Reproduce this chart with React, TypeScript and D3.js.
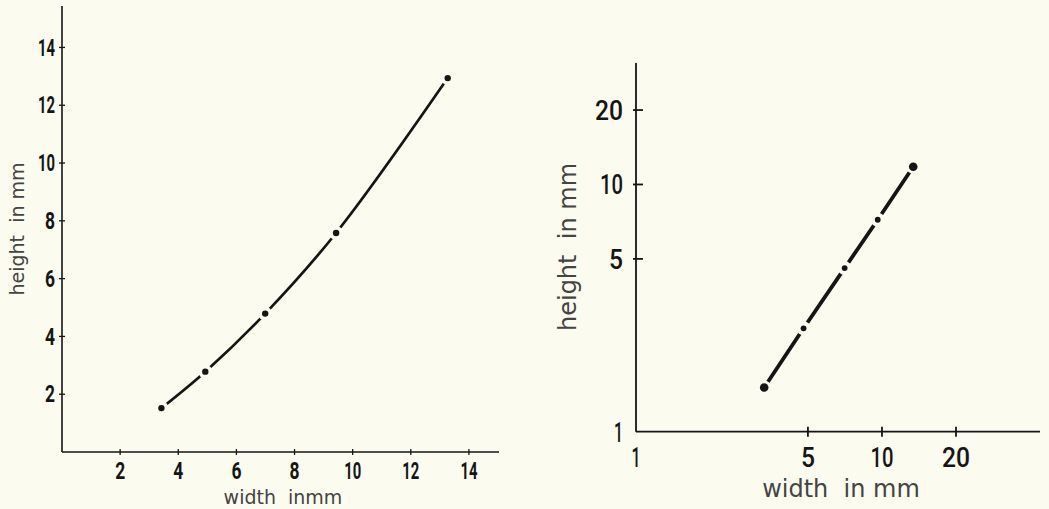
import React from "react";
import * as d3 from "d3";

// Left panel (linear axes)
const LEFT_WIDTH = [3.42, 4.93, 6.99, 9.43, 13.27];
const LEFT_HEIGHT = [1.52, 2.78, 4.79, 7.58, 12.94];
const LEFT_X_TICKS = [2, 4, 6, 8, 10, 12, 14];
const LEFT_Y_TICKS = [2, 4, 6, 8, 10, 12, 14];

// Right panel (log-log axes)
const RIGHT_WIDTH = [3.32, 4.8, 7.05, 9.61, 13.4];
const RIGHT_HEIGHT = [1.51, 2.62, 4.59, 7.2, 11.8];
const RIGHT_X_TICKS = [1, 5, 10, 20];
const RIGHT_Y_TICKS = [1, 5, 10, 20];

const BG = "#fcfbf0";
const INK = "#151515";
const NUM_FONT = "Roboto, 'DejaVu Sans', sans-serif";
const TITLE_FONT = "'DejaVu Sans', sans-serif";

export default function App() {
  const lx = d3.scaleLinear().domain([0, 15]).range([62, 498]);
  const ly = d3.scaleLinear().domain([0, 15.4]).range([452, 7]);
  const rx = d3.scaleLog().domain([1, 43.9]).range([636, 1040]);
  const ry = d3.scaleLog().domain([1, 31]).range([431.7, 63]);

  const leftPts: [number, number][] = LEFT_WIDTH.map((w, i) => [lx(w), ly(LEFT_HEIGHT[i])]);
  const rightPts: [number, number][] = RIGHT_WIDTH.map((w, i) => [rx(w), ry(RIGHT_HEIGHT[i])]);

  const leftPath = d3.line().curve(d3.curveCatmullRom.alpha(0.5))(leftPts) || "";
  const rightPath = d3.line()(rightPts) || "";

  const [lx0, lx1] = lx.range();
  const [ly0, ly1] = ly.range();
  const [rx0, rx1] = rx.range();
  const [ry0, ry1] = ry.range();

  const leftLen = (t: number) =>
    String(t).split("").reduce((s, c) => s + (c === "1" ? 7 : 10), 0);
  const rightLen = (t: number) =>
    String(t).split("").reduce((s, c) => s + (c === "1" ? 9 : 14), 0);

  return (
    <svg
      width={1049}
      height={509}
      style={{ position: "absolute", left: 0, top: 0, background: BG }}
    >
      <rect x={0} y={0} width={1049} height={509} fill={BG} />

      {/* ---------- LEFT PANEL ---------- */}
      <g>
        <line x1={lx0} y1={ly0} x2={lx0} y2={ly1 - 1} stroke={INK} strokeWidth={1.6} />
        <line x1={lx0} y1={ly0} x2={lx1 + 1} y2={ly0} stroke={INK} strokeWidth={1.6} />
        {LEFT_X_TICKS.map((t) => (
          <g key={"lxt" + t}>
            <line x1={lx(t)} x2={lx(t)} y1={ly0 - 3} y2={ly0 + 3} stroke={INK} strokeWidth={1.3} />
            <text
              x={lx(t)}
              y={479}
              textAnchor="middle"
              fontFamily={NUM_FONT}
              fontWeight={700}
              fontSize={23.5}
              fill={INK}
              textLength={leftLen(t)}
              lengthAdjust="spacingAndGlyphs"
            >
              {t}
            </text>
          </g>
        ))}
        {LEFT_Y_TICKS.map((t) => (
          <g key={"lyt" + t}>
            <line x1={lx0 - 3} x2={lx0 + 3} y1={ly(t)} y2={ly(t)} stroke={INK} strokeWidth={1.3} />
            <text
              x={55}
              y={ly(t) + 8.2}
              textAnchor="end"
              fontFamily={NUM_FONT}
              fontWeight={700}
              fontSize={23.5}
              fill={INK}
              textLength={leftLen(t)}
              lengthAdjust="spacingAndGlyphs"
            >
              {t}
            </text>
          </g>
        ))}
        <text
          transform={`translate(24,229) rotate(-90)`}
          textAnchor="middle"
          fontFamily={TITLE_FONT}
          fontSize={19}
          fill="#444"
          style={{ whiteSpace: "pre" }}
        >
          {"height  in mm"}
        </text>
        <text
          x={283}
          y={504}
          textAnchor="middle"
          fontFamily={TITLE_FONT}
          fontSize={19}
          fill="#444"
          style={{ whiteSpace: "pre" }}
        >
          {"width  inmm"}
        </text>

        <path d={leftPath} fill="none" stroke={INK} strokeWidth={2.7} />
        {leftPts.map(([x, y], i) => (
          <circle key={"lh" + i} cx={x} cy={y} r={7} fill={BG} />
        ))}
        {leftPts.map(([x, y], i) => (
          <circle key={"ld" + i} cx={x} cy={y} r={3.2} fill={INK} />
        ))}
      </g>

      {/* ---------- RIGHT PANEL ---------- */}
      <g>
        <line x1={rx0} y1={ry0} x2={rx0} y2={ry1} stroke={INK} strokeWidth={1.8} />
        <line x1={rx0} y1={ry0} x2={rx1} y2={ry0} stroke={INK} strokeWidth={1.8} />
        {RIGHT_X_TICKS.map((t) => (
          <g key={"rxt" + t}>
            {t !== 1 && (
              <line x1={rx(t)} x2={rx(t)} y1={ry0 - 5} y2={ry0 + 5} stroke={INK} strokeWidth={1.8} />
            )}
            <text
              x={rx(t)}
              y={466.5}
              textAnchor="middle"
              fontFamily={NUM_FONT}
              fontWeight={500}
              fontSize={28}
              fill={INK}
              textLength={rightLen(t)}
              lengthAdjust="spacingAndGlyphs"
            >
              {t}
            </text>
          </g>
        ))}
        {RIGHT_Y_TICKS.map((t) => (
          <g key={"ryt" + t}>
            {t !== 1 && (
              <line x1={rx0 - 3} x2={rx0 + 7} y1={ry(t)} y2={ry(t)} stroke={INK} strokeWidth={1.8} />
            )}
            <text
              x={623}
              y={ry(t) + 10}
              textAnchor="end"
              fontFamily={NUM_FONT}
              fontWeight={500}
              fontSize={28}
              fill={INK}
              textLength={rightLen(t)}
              lengthAdjust="spacingAndGlyphs"
            >
              {t}
            </text>
          </g>
        ))}
        <text
          transform={`translate(576,247) rotate(-90)`}
          textAnchor="middle"
          fontFamily={TITLE_FONT}
          fontSize={24}
          fill="#444"
          style={{ whiteSpace: "pre" }}
        >
          {"height  in mm"}
        </text>
        <text
          x={841}
          y={497}
          textAnchor="middle"
          fontFamily={TITLE_FONT}
          fontSize={24}
          fill="#444"
          style={{ whiteSpace: "pre" }}
        >
          {"width  in mm"}
        </text>

        <path d={rightPath} fill="none" stroke={INK} strokeWidth={3.8} />
        {rightPts.map(([x, y], i) => (
          <circle key={"rh" + i} cx={x} cy={y} r={7} fill={BG} />
        ))}
        {rightPts.map(([x, y], i) => (
          <circle
            key={"rd" + i}
            cx={x}
            cy={y}
            r={i === 0 || i === rightPts.length - 1 ? 4.3 : 2.9}
            fill={INK}
          />
        ))}
      </g>
    </svg>
  );
}
